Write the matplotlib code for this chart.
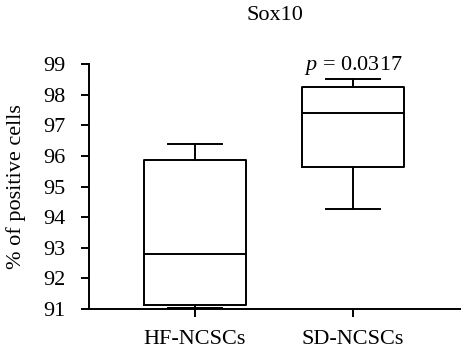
import matplotlib
matplotlib.use("Agg")
import matplotlib.pyplot as plt

groups = ["HF-NCSCs", "SD-NCSCs"]
whislo = [91.03, 94.28]
q1 = [91.13, 95.65]
med = [92.78, 97.40]
q3 = [95.85, 98.25]
whishi = [96.40, 98.52]
yticks = [91, 92, 93, 94, 95, 96, 97, 98, 99]
title = "Sox10"
ylabel = "% of positive cells"
ptext = "$p$ = 0.0317"

plt.rcParams['font.family'] = ['Liberation Serif', 'DejaVu Serif']
plt.rcParams['mathtext.fontset'] = 'custom'
plt.rcParams['mathtext.it'] = 'Liberation Serif:italic'
plt.rcParams['mathtext.rm'] = 'Liberation Serif'

fig = plt.figure(figsize=(4.61, 3.56), dpi=100)
ax = fig.add_axes([89/461, 1-309/356, 1-89/461, (309-64)/356])

stats = []
for i, g in enumerate(groups):
    stats.append(dict(label=g, whislo=whislo[i], q1=q1[i], med=med[i],
                      q3=q3[i], whishi=whishi[i], fliers=[]))
lw = 1.4
ax.bxp(stats, positions=[1, 2], widths=0.65, capwidths=0.34, showfliers=False,
       boxprops=dict(color='black', linewidth=lw),
       whiskerprops=dict(color='black', linewidth=lw),
       capprops=dict(color='black', linewidth=lw),
       medianprops=dict(color='black', linewidth=lw))

ax.set_xlim(0.329, 2.683)
ax.set_ylim(91, 99)
ax.set_yticks(yticks)
ax.set_yticklabels([str(t) for t in yticks])
ax.spines['top'].set_visible(False)
ax.spines['right'].set_visible(False)
ax.spines['left'].set_linewidth(lw)
ax.spines['bottom'].set_linewidth(lw)
ax.tick_params(axis='both', direction='out', length=6, width=lw, labelsize=16, colors='black')
ax.tick_params(axis='x', pad=9)
ax.tick_params(axis='y', pad=11)
ax.set_ylabel(ylabel, fontsize=16, labelpad=12)
ax.text(2, 98.56, ptext, ha='center', va='bottom', fontsize=16)
fig.text((89+461)/2/461, 1-15/356, title, ha='center', va='center', fontsize=16)

fig.savefig("out.png", dpi=100)
